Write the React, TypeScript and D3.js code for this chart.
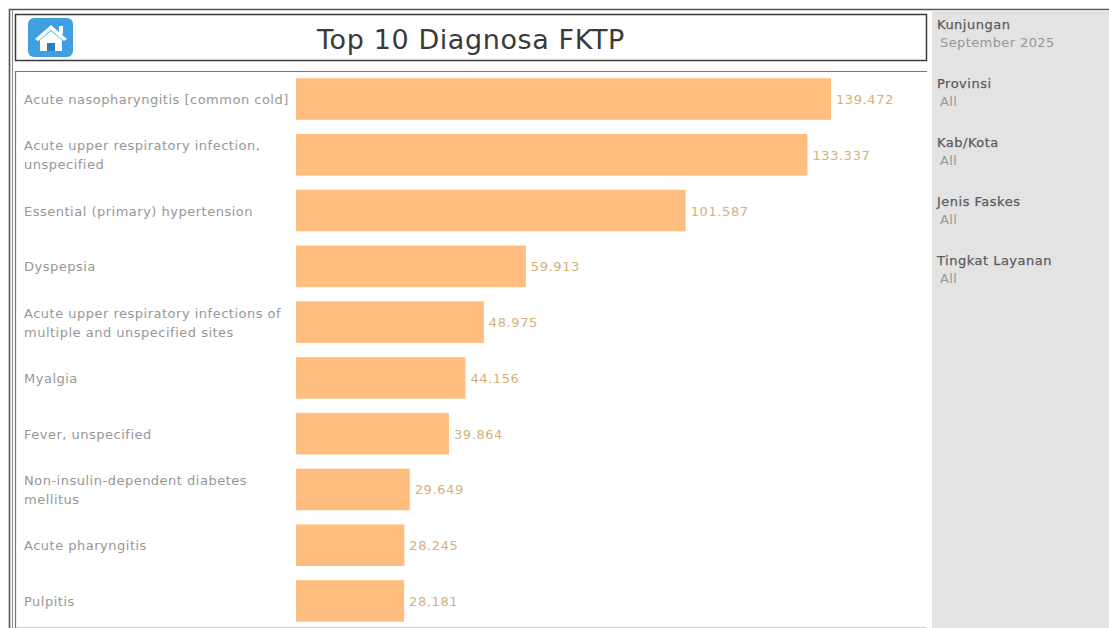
import React from "react";
import * as d3 from "d3";

const diagnoses = [
  ["Acute nasopharyngitis [common cold]"],
  ["Acute upper respiratory infection,", "unspecified"],
  ["Essential (primary) hypertension"],
  ["Dyspepsia"],
  ["Acute upper respiratory infections of", "multiple and unspecified sites"],
  ["Myalgia"],
  ["Fever, unspecified"],
  ["Non-insulin-dependent diabetes", "mellitus"],
  ["Acute pharyngitis"],
  ["Pulpitis"],
];
const visits = [139472, 133337, 101587, 59913, 48975, 44156, 39864, 29649, 28245, 28181];
const filterNames = ["Kunjungan", "Provinsi", "Kab/Kota", "Jenis Faskes", "Tingkat Layanan"];
const filterValues = ["September 2025", "All", "All", "All", "All"];

const FONT = "'DejaVu Sans', 'Noto Sans', sans-serif";
const idFormat = (v: number) => d3.format(",")(v).replace(/,/g, ".");

export default function App() {
  const x = d3.scaleLinear().domain([0, 139472]).range([296, 831]);
  const y = d3.scaleBand<number>().domain(d3.range(visits.length)).range([71, 629]).paddingInner(0.255).paddingOuter(0.13);
  const filterY = d3.scaleLinear().domain([0, 4]).range([29, 265]);

  return (
    <svg width={1109} height={628} style={{ position: "absolute", left: 0, top: 0, display: "block", background: "#fff" }} fontFamily={FONT}>
      {/* outer dashboard frame */}
      <path d="M9.5 628V9.5H1109" fill="none" stroke="#555" strokeWidth={1.6} />
      <line x1={12.5} x2={12.5} y1={10} y2={628} stroke="#8a8a8a" strokeWidth={1} />

      {/* filter column */}
      <rect x={932} y={10} width={177} height={618} fill="#e3e3e3" />
      {filterNames.map((name, i) => (
        <g key={name}>
          <text x={937} y={filterY(i)} fontSize={13} fill="#5b5b5b" stroke="#5b5b5b" strokeWidth={0.25} letterSpacing={0.5}>{name}</text>
          <text x={940} y={filterY(i) + 18} fontSize={13} fill="#979797" letterSpacing={0.4}>{filterValues[i]}</text>
        </g>
      ))}

      {/* title band */}
      <rect x={15.5} y={14.5} width={911} height={46} fill="#fff" stroke="#3a3a3a" strokeWidth={1.5} />
      <text x={471} y={48.5} textAnchor="middle" fontSize={27} fill="#3a3a3a" letterSpacing={0.6}>Top 10 Diagnosa FKTP</text>

      {/* home button */}
      <rect x={28} y={18} width={45} height={39} rx={6} fill="#3f9fe0" />
      <rect x={59} y={26} width={4} height={8} fill="#fff" />
      <path d="M35 39 L51 25 L67 39 L64 41 L51 30 L38 41 Z" fill="#fff" />
      <path d="M40 40 L51 31 L62 40 V51 H55 V43 H47 V51 H40 Z" fill="#fff" />
      <rect x={47} y={43} width={8} height={8} fill="#2a7fbd" />

      {/* chart panel */}
      <path d="M15.5 628V71.5H927" fill="none" stroke="#777" strokeWidth={1.2} />
      <line x1={16} x2={927} y1={627.5} y2={627.5} stroke="#d4d4d4" strokeWidth={1} />

      {visits.map((v, i) => {
        const top = y(i)!;
        const mid = top + y.bandwidth() / 2;
        const lines = diagnoses[i];
        return (
          <g key={lines[0]}>
            <rect x={x(0)} y={top} width={x(v) - x(0)} height={y.bandwidth()} fill="#ffbd7f" />
            <text x={x(v) + 5} y={mid + 5} fontSize={13} fill="#d2b27c" letterSpacing={0.6}>{idFormat(v)}</text>
            {lines.map((line, k) => (
              <text key={line} x={24} y={mid + 5 + (k - (lines.length - 1) / 2) * 19} fontSize={13} fill="#979797" letterSpacing={0.5}>{line}</text>
            ))}
          </g>
        );
      })}
    </svg>
  );
}
